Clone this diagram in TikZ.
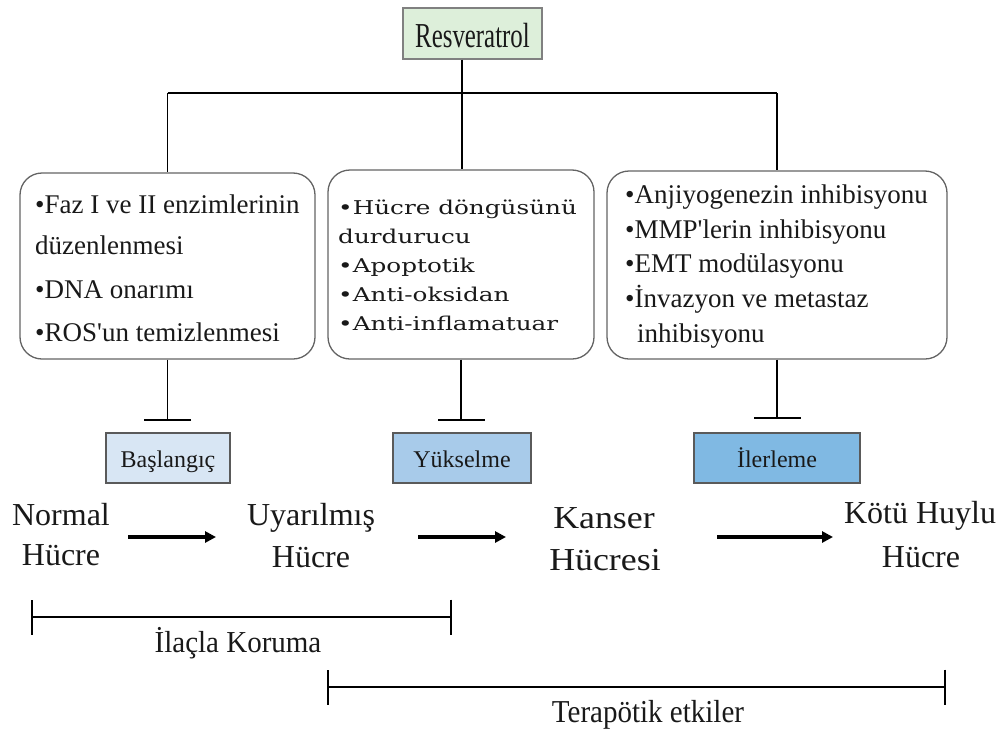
\documentclass[tikz,border=0pt]{standalone}
\usepackage{fontspec}
\setmainfont{Liberation Serif}[Ligatures=TeXOff]
\newfontfamily\wideserif{DejaVu Serif}
\usetikzlibrary{arrows.meta}
\definecolor{resgreen}{RGB}{221,239,218}
\definecolor{resborder}{RGB}{128,128,128}
\definecolor{boxgray}{RGB}{100,100,100}
\definecolor{stageA}{RGB}{216,230,244}
\definecolor{stageB}{RGB}{168,203,234}
\definecolor{stageC}{RGB}{128,185,227}
\definecolor{stageborder}{RGB}{90,90,90}
\definecolor{txt}{RGB}{25,25,25}
\begin{document}
\begin{tikzpicture}[x=1pt,y=-1pt,
  rbox/.style={draw=boxgray, line width=1.3pt, rounded corners=22pt, inner sep=0pt},
  resbox/.style={draw=resborder, fill=resgreen, line width=1.2pt, inner sep=0pt, minimum width=139pt, minimum height=51pt, text height=27pt, text depth=0pt},
  stagebox/.style={draw=stageborder, line width=1.2pt, inner sep=0pt, minimum height=50pt, text height=18pt, text depth=0pt, font=\fontsize{24}{24}\selectfont, text=txt},
  conn/.style={line width=1.5pt, black},
  inh/.style={line width=1.5pt, -{Bar[width=47pt, line width=2pt]}},
  flow/.style={line width=3.2pt, -{Triangle[length=11pt, width=11pt]}},
  span/.style={line width=2pt, {Bar[width=35pt, line width=1.6pt]}-{Bar[width=35pt, line width=1.6pt]}},
  listtxt/.style={font=\fontsize{27}{27}\selectfont, inner sep=0pt, anchor=base west, text=txt},
  midtxt/.style={font=\wideserif\fontsize{19}{19}\selectfont, inner sep=0pt, anchor=base west, text=txt},
  bigtxt/.style={font=\fontsize{32}{32}\selectfont, inner sep=0pt, anchor=base, text=txt},
  captxt/.style={font=\fontsize{29}{29}\selectfont, inner sep=0pt, anchor=base, text=txt}]
\useasboundingbox (0,0) rectangle (1006,736);

% top
\node[resbox] (res) at (472.5,33.5) {\scalebox{0.71}[1]{\fontsize{35}{35}\selectfont\color{txt}Resveratrol}};
\coordinate (top) at (462,93);

% three rounded boxes
\node[rbox, minimum width=295pt, minimum height=186pt] (b1) at (167.5,266) {};
\node[rbox, minimum width=266pt, minimum height=189pt] (b2) at (461,264.5) {};
\node[rbox, minimum width=340pt, minimum height=188pt] (b3) at (777,265) {};

% tree connectors
\draw[conn] (res.south -| top) -- (top);
\draw[line width=2pt] (top -| b1.north) -- (top -| b3.north);
\draw[conn] (top -| b1.north) -- (b1.north);
\draw[conn] (top) -- (top |- b2.north);
\draw[conn] (top -| b3.north) -- (b3.north);

% box 1 text
\node[listtxt] (t1a) at (35,213) {•Faz I ve II enzimlerinin};
\node[listtxt] (t1b) at (35,254) {düzenlenmesi};
\node[listtxt] (t1c) at (35,298) {•DNA onarımı};
\node[listtxt] (t1d) at (35,341) {•ROS'un temizlenmesi};

% box 2 text
\node[midtxt] (t2a) at (338,214) {\scalebox{1.3}[1]{•Hücre döngüsünü}};
\node[midtxt] (t2b) at (338,243) {\scalebox{1.3}[1]{durdurucu}};
\node[midtxt] (t2c) at (338,272) {\scalebox{1.3}[1]{•Apoptotik}};
\node[midtxt] (t2d) at (338,301) {\scalebox{1.3}[1]{•Anti-oksidan}};
\node[midtxt] (t2e) at (338,330) {\scalebox{1.3}[1]{•Anti-inflamatuar}};

% box 3 text
\node[listtxt] (t3a) at (625,203) {•Anjiyogenezin inhibisyonu};
\node[listtxt] (t3b) at (625,238) {•MMP'lerin inhibisyonu};
\node[listtxt] (t3c) at (625,272) {•EMT modülasyonu};
\node[listtxt] (t3d) at (625,307) {•İnvazyon ve metastaz};
\node[listtxt] (t3e) at (637,342) {inhibisyonu};

% stage boxes
\node[stagebox, fill=stageA, minimum width=124pt] (s1) at (168,458) {Başlangıç};
\node[stagebox, fill=stageB, minimum width=138pt] (s2) at (462,458) {Yükselme};
\node[stagebox, fill=stageC, minimum width=166pt] (s3) at (777,458) {İlerleme};

% inhibition
\coordinate (i1) at (167.5,421);
\coordinate (i2) at (461,421);
\coordinate (i3) at (777,419);
\draw[inh] (b1.south) -- (i1);
\draw[inh] (b2.south) -- (i2);
\draw[inh] (b3.south) -- (i3);

% cell stages
\node[bigtxt] (c1a) at (61,525) {Normal};
\node[bigtxt] (c1b) at (61,565) {Hücre};
\node[bigtxt] (c2a) at (311,525) {Uyarılmış};
\node[bigtxt] (c2b) at (311,567) {Hücre};
\node[bigtxt] (c3a) at (604,528) {\scalebox{1.12}[1]{Kanser}};
\node[bigtxt] (c3b) at (605,570) {\scalebox{1.12}[1]{Hücresi}};
\node[bigtxt] (c4a) at (920,523) {Kötü Huylu};
\node[bigtxt] (c4b) at (921,567) {Hücre};

% flow arrows
\coordinate (f1s) at (128,537); \coordinate (f1e) at (216,537);
\coordinate (f2s) at (418,537); \coordinate (f2e) at (506,537);
\coordinate (f3s) at (717,537); \coordinate (f3e) at (833,537);
\draw[flow] (f1s) -- (f1e);
\draw[flow] (f2s) -- (f2e);
\draw[flow] (f3s) -- (f3e);

% spans
\coordinate (p1s) at (31,617); \coordinate (p1e) at (452,617);
\coordinate (p2s) at (327,687); \coordinate (p2e) at (946,687);
\draw[span] (p1s) -- (p1e);
\draw[span] (p2s) -- (p2e);
\node[captxt] (k1) at (238,652) {\scalebox{1}[1.05]{İlaçla Koruma}};
\node[captxt] (k2) at (648,722) {\scalebox{1}[1.1]{Terapötik etkiler}};
\end{tikzpicture}
\end{document}
